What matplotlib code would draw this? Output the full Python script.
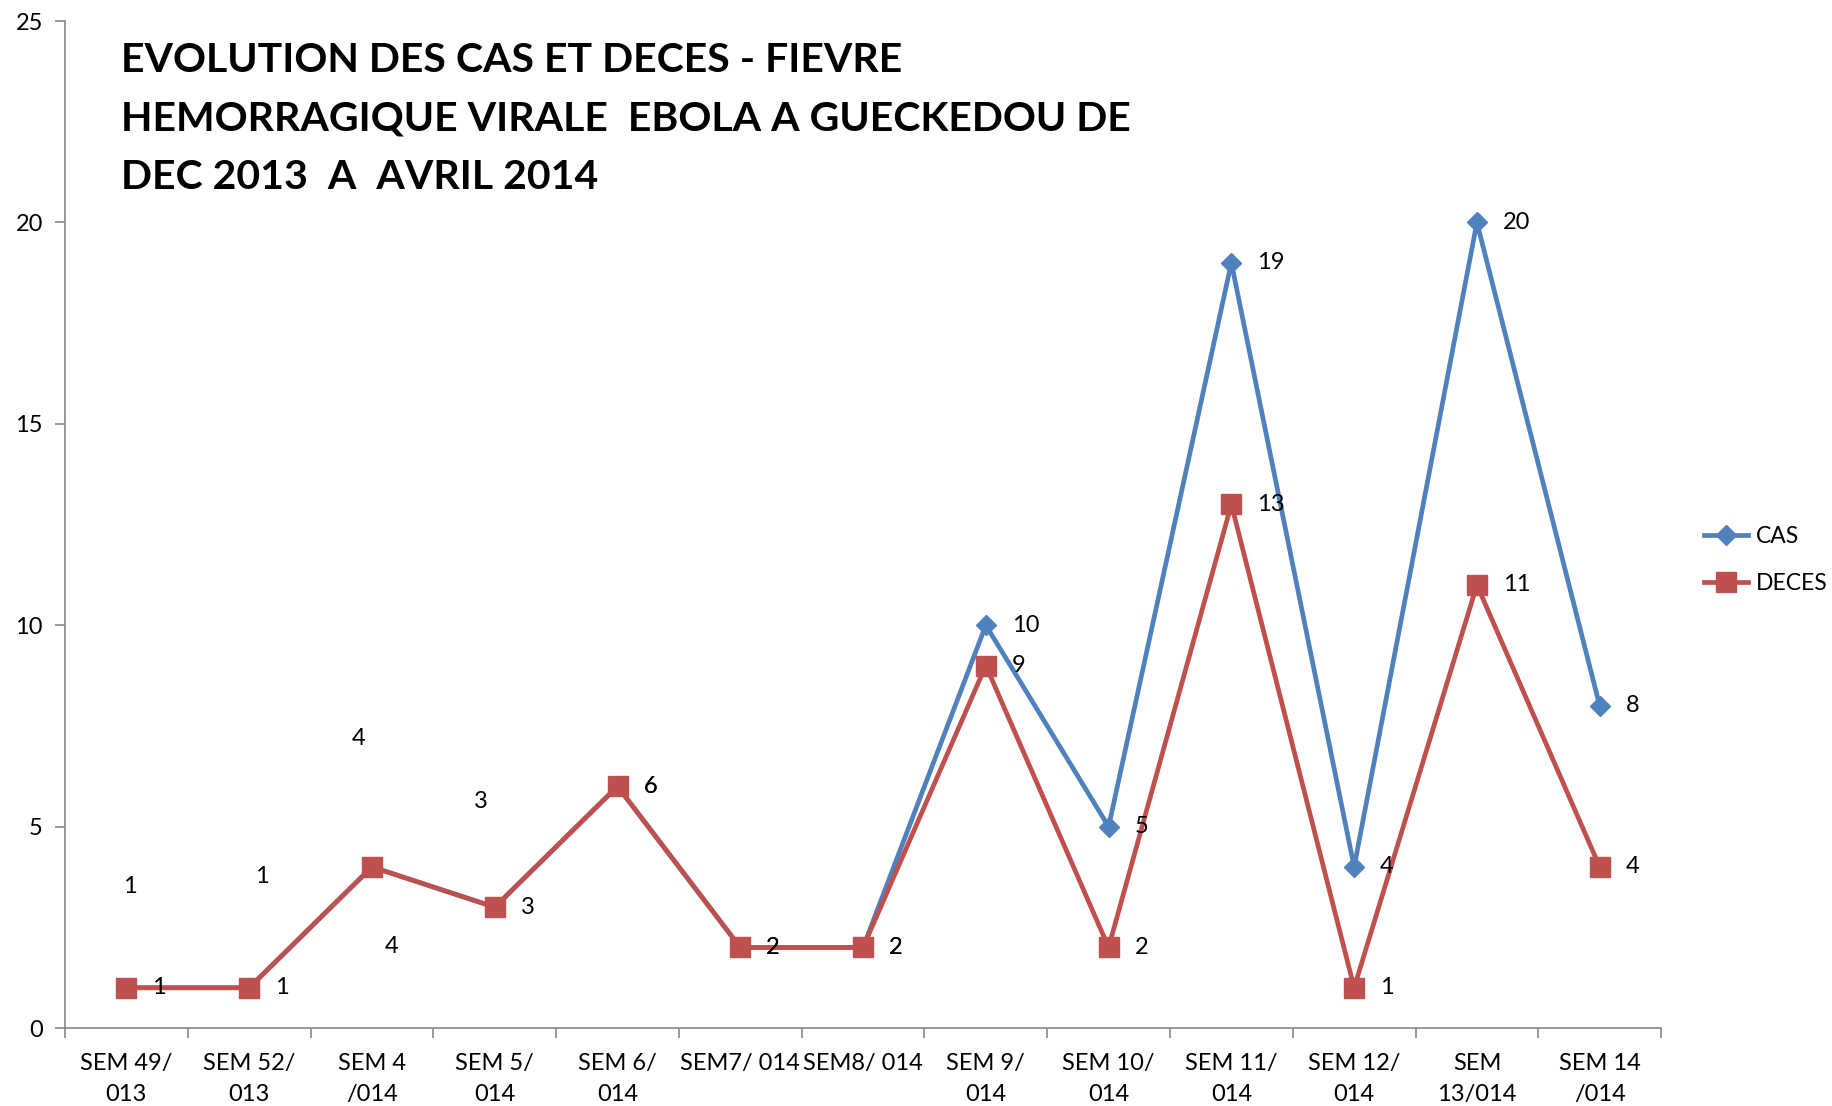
import matplotlib
matplotlib.use("Agg")
import matplotlib.pyplot as plt
import numpy as np

categories = ["SEM 49/\n013", "SEM 52/\n013", "SEM 4\n/014", "SEM 5/\n014", "SEM 6/\n014",
              "SEM7/ 014", "SEM8/ 014", "SEM 9/\n014", "SEM 10/\n014", "SEM 11/\n014",
              "SEM 12/\n014", "SEM\n13/014", "SEM 14\n/014"]
cas = [1, 1, 4, 3, 6, 2, 2, 10, 5, 19, 4, 20, 8]
deces = [1, 1, 4, 3, 6, 2, 2, 9, 2, 13, 1, 11, 4]
yticks = [0, 5, 10, 15, 20, 25]
title = "EVOLUTION DES CAS ET DECES - FIEVRE\nHEMORRAGIQUE VIRALE  EBOLA A GUECKEDOU DE\nDEC 2013  A  AVRIL 2014"

# Excel's stray label placements (category offset, y value) for a few points
cas_label_moved = {0: (0.03, 3.51), 1: (0.10, 3.77), 2: (-0.11, 7.19), 3: (-0.11, 5.63)}
deces_label_moved = {2: (0.16, 2.03)}

plt.rcParams['font.family'] = ['Lato', 'DejaVu Sans']

BLUE = "#4F81BD"
RED = "#C0504D"
FS = 17

fig = plt.figure(figsize=(18.32, 11.06), dpi=100)
ax = fig.add_axes([0.0355, 0.0705, 0.8712, 0.9105])
x = np.arange(len(categories))

l1, = ax.plot(x, cas, color=BLUE, lw=3.4, marker='D', ms=10, label="CAS", zorder=3)
l2, = ax.plot(x, deces, color=RED, lw=3.4, marker='s', ms=14, label="DECES", zorder=4)

ax.set_xlim(-0.5, len(categories) - 0.5)
ax.set_ylim(0, 25)
ax.set_yticks(yticks)
ax.tick_params(axis='y', labelsize=FS, length=7, color='#888888', width=1.2, pad=9)
ax.set_xticks(x)
ax.set_xticklabels(categories, fontsize=FS, linespacing=1.6)
ax.tick_params(axis='x', which='major', length=0, pad=18)
ax.set_xticks(np.arange(-0.5, len(categories)), minor=True)
ax.tick_params(axis='x', which='minor', length=7, color='#888888', width=1.2)
for s in ['top', 'right']:
    ax.spines[s].set_visible(False)
for s in ['left', 'bottom']:
    ax.spines[s].set_color('#888888')
    ax.spines[s].set_linewidth(1.2)

def label(series, moved):
    for i, v in enumerate(series):
        if i in moved:
            dx, yy = moved[i]
            ax.text(i + dx, yy, str(v), fontsize=FS, ha='center', va='center', zorder=6)
        else:
            ax.annotate(str(v), (i, v), xytext=(26, 0), textcoords='offset pixels',
                        fontsize=FS, ha='left', va='center', zorder=6)

label(cas, cas_label_moved)
label(deces, deces_label_moved)

fig.text(121 / 1832, 1 - 42 / 1106, title, fontsize=29.5, fontweight='bold',
         ha='left', va='top', linespacing=1.72)

leg = fig.legend(handles=[l1, l2], loc='center left', bbox_to_anchor=(1704 / 1832, 1 - 560 / 1106),
                 frameon=False, fontsize=16.5, handlelength=1.9, labelspacing=1.15,
                 handletextpad=0.35, borderaxespad=0, borderpad=0)
fig.savefig("out.png", dpi=100)
